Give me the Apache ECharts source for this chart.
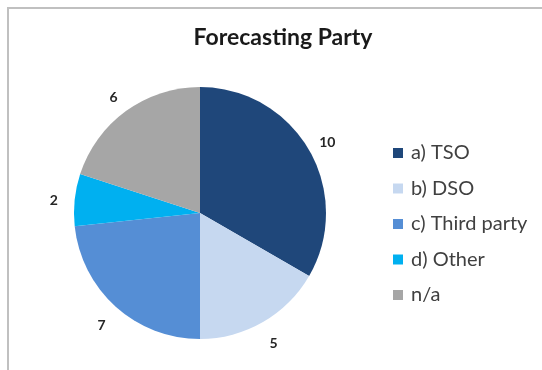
<!DOCTYPE html>
<html><head><meta charset="utf-8">
<script src="https://cdn.jsdelivr.net/npm/echarts@6/dist/echarts.min.js"></script>
<style>html,body{margin:0;padding:0;background:#fff}#c{width:542px;height:370px}</style>
</head><body><div id="c"></div>
<script>
const categories = ['a) TSO', 'b) DSO', 'c) Third party', 'd) Other', 'n/a'];
const values = [10, 5, 7, 2, 6];
const colors = ['#1F477A', '#C6D8F0', '#558ED5', '#00B0F0', '#A6A6A6'];
const title = 'Forecasting Party';

const chart = echarts.init(document.getElementById('c'));
const center = [200, 213];
chart.setOption({
  animation: false,
  title: {text: title, left: 278, textAlign: 'center', top: 21,
    textStyle: {fontFamily: 'Lato', fontWeight: 'bold', fontSize: 23, color: '#1a1a1a'}},
  graphic: [{type: 'rect', shape: {x: 8, y: 8, width: 700, height: 500},
    style: {fill: 'none', stroke: '#c0c0c0', lineWidth: 2}, silent: true}],
  legend: {orient: 'vertical', left: 388, top: 138, icon: 'rect', itemWidth: 10, itemHeight: 10,
    itemGap: 15.5, data: categories,
    textStyle: {fontFamily: 'Lato', fontSize: 20, color: '#404040', lineHeight: 20, padding: [0, 0, 0, 3]}},
  series: [{
    type: 'pie', center: center, radius: 126, startAngle: 90, clockwise: true,
    label: {show: false}, labelLine: {show: false},
    data: categories.map((n, i) => ({name: n, value: values[i], itemStyle: {color: colors[i]}}))
  }, {
    type: 'pie', center: center, radius: [126, 162], startAngle: 90, clockwise: true, silent: true,
    itemStyle: {color: 'rgba(0,0,0,0)'},
    label: {show: true, position: 'inside', formatter: '{c}', fontFamily: 'Lato', fontWeight: 'bold',
      fontSize: 14, color: '#262626', offset: [0, 3]},
    labelLine: {show: false},
    data: categories.map((n, i) => ({name: n, value: values[i]}))
  }]
});
</script></body></html>
